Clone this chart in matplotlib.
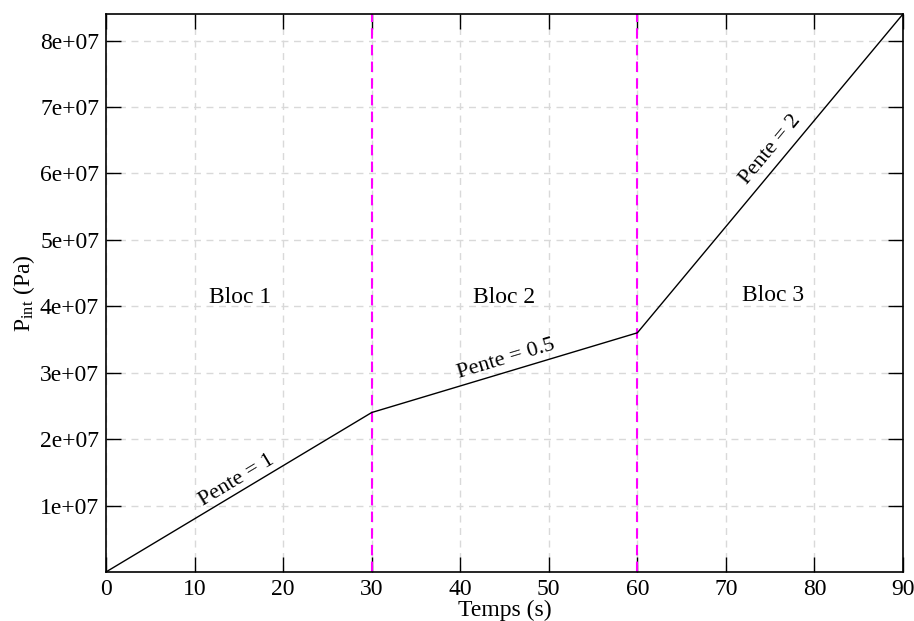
import matplotlib
matplotlib.use("Agg")
import matplotlib.pyplot as plt

plt.rcParams['font.family'] = ['Liberation Serif', 'DejaVu Serif']
plt.rcParams['mathtext.fontset'] = 'custom'
plt.rcParams['mathtext.rm'] = 'Liberation Serif'
plt.rcParams['mathtext.it'] = 'Liberation Serif:italic'

# data
temps = [0, 30, 60, 90]
pression = [0, 2.4e7, 3.6e7, 8.4e7]
limites_blocs = [30, 60]

blocs = ['Bloc 1', 'Bloc 2', 'Bloc 3']
blocs_x = [15.1, 44.9, 75.3]
blocs_y = [4.13e7, 4.13e7, 4.16e7]

pentes = ['Pente = 1', 'Pente = 0.5', 'Pente = 2']
pentes_x = [14.8, 45.2, 75.0]
pentes_y = [1.38e7, 3.21e7, 6.35e7]
pentes_rot = [31, 16.7, 50.2]

xticks = [0, 10, 20, 30, 40, 50, 60, 70, 80, 90]
yticks = [1e7, 2e7, 3e7, 4e7, 5e7, 6e7, 7e7, 8e7]
yticklabels = ['1e+07', '2e+07', '3e+07', '4e+07', '5e+07', '6e+07', '7e+07', '8e+07']

fig = plt.figure(figsize=(9.14, 6.21), dpi=100)
ax = fig.add_axes([0.116, 0.079, 0.872, 0.8985])

ax.plot(temps, pression, color='black', linewidth=1.0, zorder=3)
for xb in limites_blocs:
    ax.axvline(xb, color='#ff00ff', linestyle=(0, (5, 3)), linewidth=1.5, zorder=2)

for txt, x, y in zip(blocs, blocs_x, blocs_y):
    ax.text(x, y, txt, fontsize=17, ha='center', va='center')
for txt, x, y, r in zip(pentes, pentes_x, pentes_y, pentes_rot):
    ax.text(x, y, txt, fontsize=16, ha='center', va='center', rotation=r,
            rotation_mode='anchor')

ax.set_xlim(0, 90)
ax.set_ylim(0, 8.4e7)
ax.set_xticks(xticks)
ax.set_yticks(yticks)
ax.set_yticklabels(yticklabels)
ax.tick_params(direction='in', length=11, width=1.0, labelsize=17,
               top=True, right=True, pad=5)
ax.grid(True, color='#d9d9d9', linestyle=(0, (5, 4)), linewidth=1.0)
for s in ax.spines.values():
    s.set_linewidth(1.2)

ax.set_xlabel('Temps (s)', fontsize=17, labelpad=0)
ax.set_ylabel(r'P$_{\rm int}$ (Pa)', fontsize=17, labelpad=2)

fig.savefig('out.png', dpi=100)
